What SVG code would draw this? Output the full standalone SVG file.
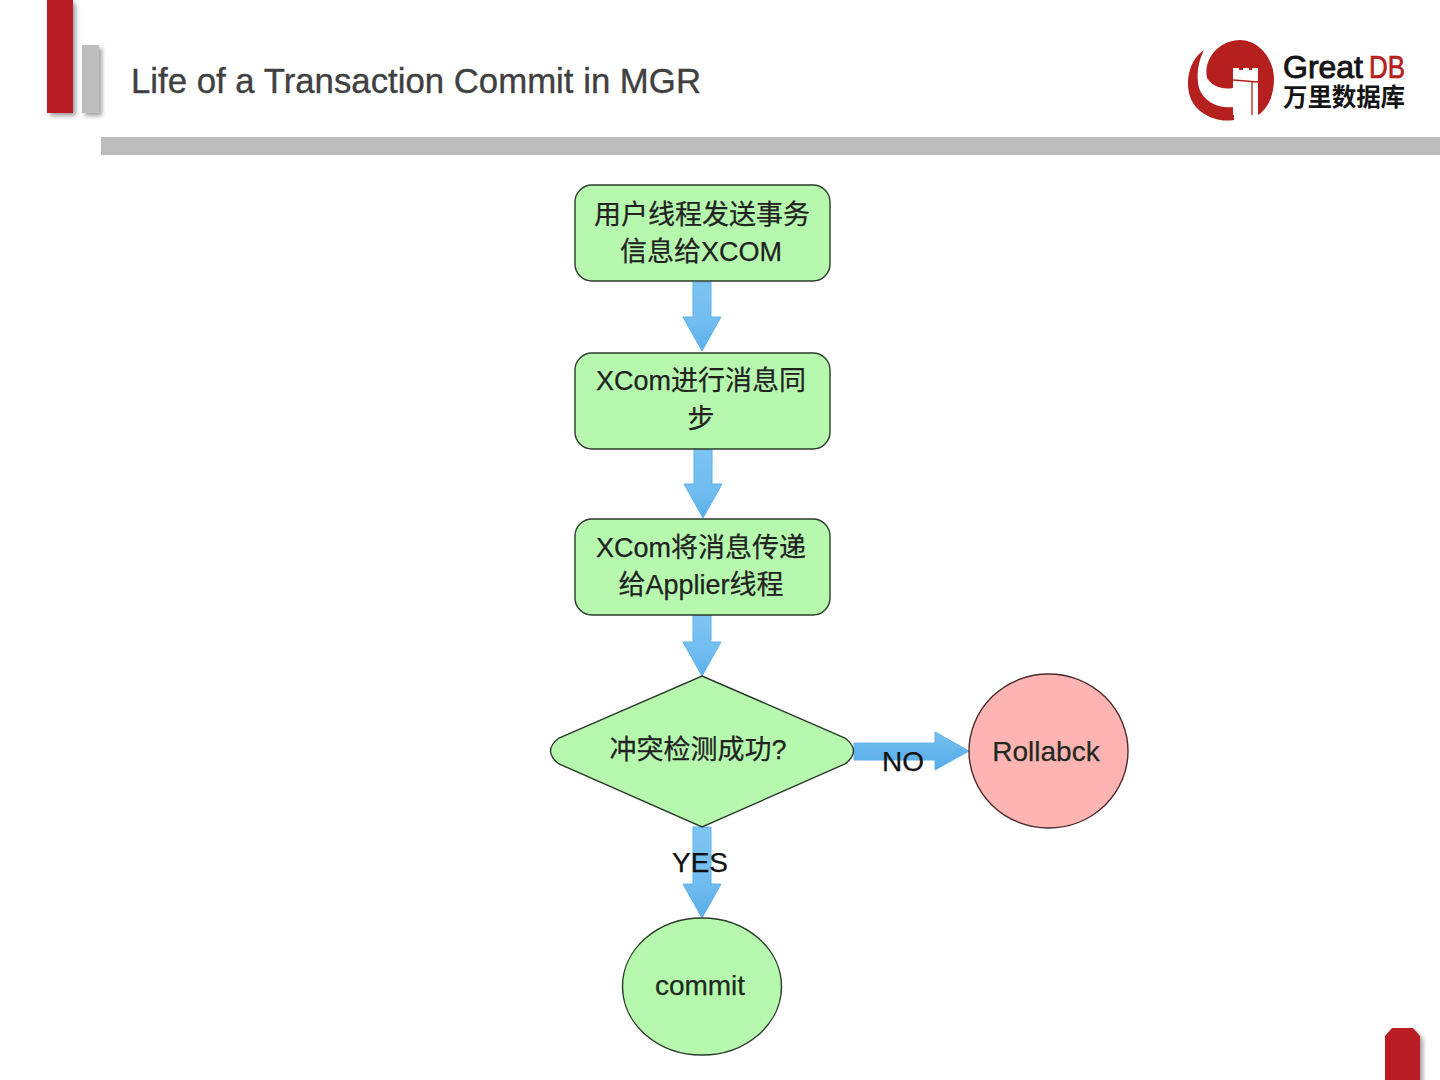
<svg xmlns="http://www.w3.org/2000/svg" width="1440" height="1080" viewBox="0 0 1440 1080">
<defs>
<filter id="sh" x="-40%" y="-10%" width="200%" height="120%"><feDropShadow dx="3" dy="3" stdDeviation="2" flood-color="#555" flood-opacity="0.55"/></filter>
<linearGradient id="arrowV" x1="0" y1="0" x2="0" y2="1"><stop offset="0" stop-color="#7cc4f2"/><stop offset="0.6" stop-color="#72bdf0"/><stop offset="1" stop-color="#58aeea"/></linearGradient>
<linearGradient id="arrowH" x1="0" y1="0" x2="0" y2="1"><stop offset="0" stop-color="#78c0f1"/><stop offset="1" stop-color="#54abe8"/></linearGradient>
<style>
text{font-family:"Liberation Sans","Noto Sans CJK SC",sans-serif;}
.node{fill:#b5f8ae;stroke:#2b3a2b;stroke-width:1.4;}
.red{fill:#ffb4b4;stroke:#4a2a2a;stroke-width:1.4;}
.lbl{font-size:28px;fill:#1f2a1f;text-anchor:middle;stroke:#1f2a1f;stroke-width:.25;}
.cn{font-size:27px;fill:#222;text-anchor:middle;stroke:#222;stroke-width:.25;}
.edge{fill:#111;font-size:28px;text-anchor:middle;stroke:#111;stroke-width:.25;}
.a{stroke:#5fb2e8;stroke-width:1;}
</style>
</defs>
<rect width="1440" height="1080" fill="#fff"/>
<g id="header">
<rect x="47" y="0" width="26" height="113" fill="#b91b21" filter="url(#sh)"/>
<rect x="82" y="45" width="17" height="68" fill="#bdbdbd" filter="url(#sh)"/>
<rect x="101" y="137" width="1339" height="18" fill="#bcbcbc"/>
<text x="131" y="93" font-size="34.5" fill="#404040" stroke="#404040" stroke-width=".35" textLength="570" lengthAdjust="spacingAndGlyphs">Life of a Transaction Commit in MGR</text>
</g>
<g id="logo">
<path d="M1204 50C1186 62 1183 92 1196 107C1207 119 1222 122 1234 120L1234 107C1218 109 1204 102 1199 88C1196 75 1198 62 1204 50Z" fill="#b5201f"/>
<path d="M1240 40C1258 40 1274 58 1274 79C1274 98 1266 110 1258 115L1258 70L1233 70L1233 88C1222 90 1212 86 1207 78C1203 58 1220 40 1240 40Z" fill="#b5201f"/>
<path d="M1233 68H1239V73H1243V68H1249V73H1252V68H1258V115H1233Z" fill="#fff"/>
<path d="M1233 80L1258 82M1252 82L1252 115" stroke="#b5201f" stroke-width="1.3" fill="none"/>
<text x="1283" y="78" font-size="32" fill="#141414" stroke="#141414" stroke-width=".9" textLength="80" lengthAdjust="spacingAndGlyphs">Great</text>
<text x="1369" y="78" font-size="32" fill="#b5201f" stroke="#b5201f" stroke-width=".7" textLength="36" lengthAdjust="spacingAndGlyphs">DB</text>
<text x="1283" y="106" font-size="24.5" font-weight="bold" fill="#141414" textLength="122">万里数据库</text>
</g>
<g id="connectors">
<path class="a" fill="url(#arrowV)" d="M693 282H711V317H721L702 351L683 317H693Z"/>
<path class="a" fill="url(#arrowV)" d="M694 448H712V484H722L703 518L684 484H694Z"/>
<path class="a" fill="url(#arrowV)" d="M693 615H711V642H721L702 676L683 642H693Z"/>
<path class="a" fill="url(#arrowV)" d="M693 827H711V884H721L702 918L683 884H693Z"/>
<path class="a" fill="url(#arrowH)" d="M854 743H935V732L969 751L935 770V760H854Z"/>
</g>
<g id="n1"><rect class="node" x="575" y="185" width="255" height="96" rx="17"/><text class="cn" x="702" y="224">用户线程发送事务</text><text class="cn" x="701" y="261">信息给XCOM</text></g>
<g id="n2"><rect class="node" x="575" y="353" width="255" height="96" rx="17"/><text class="cn" x="701" y="390">XCom进行消息同</text><text class="cn" x="701" y="428">步</text></g>
<g id="n3"><rect class="node" x="575" y="519" width="255" height="96" rx="17"/><text class="cn" x="701" y="557">XCom将消息传递</text><text class="cn" x="701" y="594">给Applier线程</text></g>
<g id="n4"><path class="node" d="M702 676L845 738Q862 751 845 764L702 827L559 764Q542 751 559 738Z"/><text class="cn" x="698" y="759">冲突检测成功?</text></g>
<g id="n5"><ellipse class="red" cx="1048.500" cy="751" rx="79.500" ry="77"/><text class="lbl" x="1046" y="761">Rollabck</text></g>
<g id="n6"><ellipse class="node" cx="702" cy="986.500" rx="79.500" ry="68.500"/><text class="lbl" x="700" y="995">commit</text></g>
<g id="edge-labels"><text class="edge" x="903" y="771">NO</text><text class="edge" x="700" y="872">YES</text></g>
<g id="corner"><path d="M1385 1080V1036L1392 1028H1413L1420 1036V1080Z" fill="#b91b21" filter="url(#sh)"/></g>
</svg>
